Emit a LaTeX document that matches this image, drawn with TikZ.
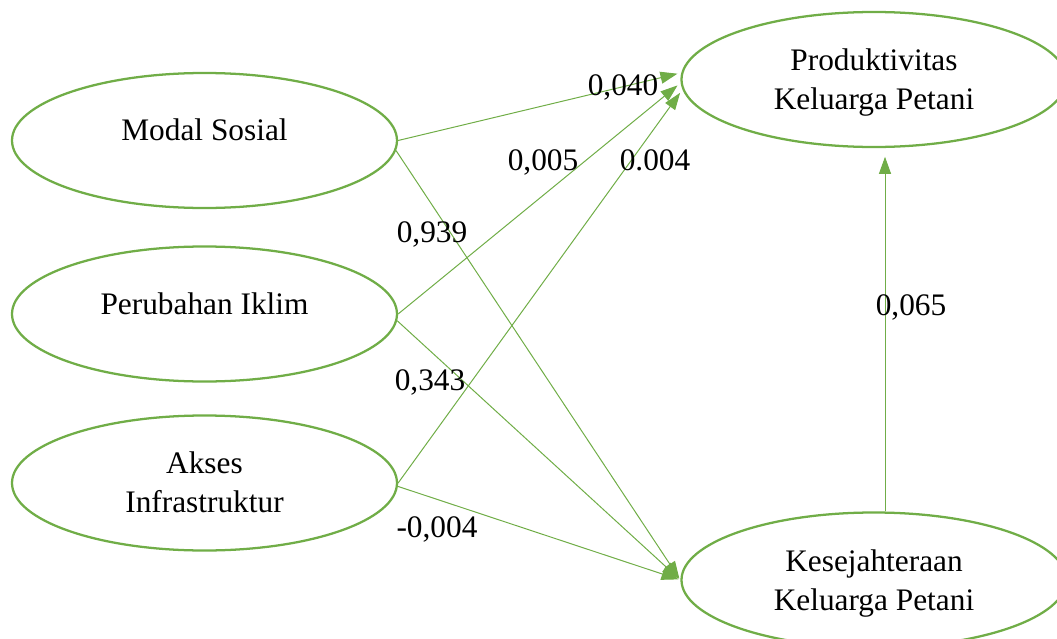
\documentclass[tikz,border=0pt]{standalone}
\usepackage{xcolor}
\usepackage{tikz}
\usepackage{fontspec}
\setmainfont{Liberation Serif}
\usetikzlibrary{shapes.geometric}
\usetikzlibrary{arrows.meta}
\definecolor{grn}{RGB}{112,173,71}

\begin{document}
\begin{tikzpicture}[x=0.75pt,y=0.75pt,yscale=-1,xscale=1,
  var/.style={ellipse,draw=grn,line width=1.7pt,minimum width=288.75pt,minimum height=101.25pt,inner sep=0pt,align=center,font=\fontsize{23.5}{29.25}\selectfont},
  lnk/.style={draw=grn,line width=0.75pt,-{Triangle[length=12.75pt,width=9pt]}},
  val/.style={inner sep=0pt,text depth=0pt,font=\fontsize{23.5}{29.25}\selectfont}]
%set diagram size: 1057 x 639
\useasboundingbox (0,0) rectangle (1057,639);

%Shape: Ellipse
\node[var,text depth=16pt] (ms) at (204.5,140.5) {Modal Sosial};
%Shape: Ellipse
\node[var,text depth=16pt] (pi) at (204.5,314) {Perubahan Iklim};
%Shape: Ellipse
\node[var,text depth=2pt] (ai) at (204.5,483) {Akses\\Infrastruktur};
%Shape: Ellipse
\node[var,text depth=0pt] (pk) at (874,79.5) {Produktivitas\\Keluarga Petani};
%Shape: Ellipse
\node[var,text depth=0pt] (kk) at (874,580) {Kesejahteraan\\Keluarga Petani};

%Straight Lines
\draw[lnk,shorten >=3pt] (ms.east) -- (pk.178);
%Straight Lines
\draw[lnk,shorten >=1.5pt] (ms.-3) -- (kk.west);
%Straight Lines
\draw[lnk,shorten >=3pt] (pi.east) -- (pk.181);
%Straight Lines
\draw[lnk,shorten >=1.5pt] (pi.-2) -- (kk.west);
%Straight Lines
\draw[lnk,shorten >=3pt] (ai.east) -- (pk.183);
%Straight Lines
\draw[lnk,shorten >=1.5pt] (ai.-1) -- (kk.west);
%Straight Lines
\draw[lnk,shorten >=6.5pt] ([xshift=8.25pt]kk.north) -- ([xshift=8.25pt]pk.south);

% Text Node
\draw (623,85) node[val] (v1) {0,040};
% Text Node
\draw (543,160) node[val] (v2) {0,005};
% Text Node
\draw (655,160) node[val] (v3) {0.004};
% Text Node
\draw (432,232) node[val] (v4) {0,939};
% Text Node
\draw (430,380) node[val] (v5) {0,343};
% Text Node
\draw (437,527) node[val] (v6) {-0,004};
% Text Node
\draw (911,305) node[val] (v7) {0,065};

\end{tikzpicture}
\end{document}
